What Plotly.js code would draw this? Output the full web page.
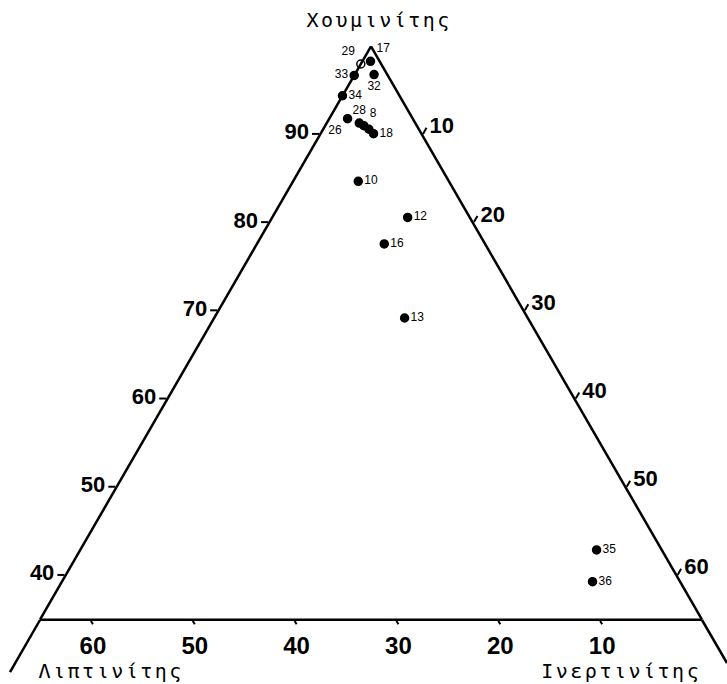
<!DOCTYPE html>
<html><head><meta charset="utf-8">
<script src="https://cdn.plot.ly/plotly-3.0.1.min.js"></script>
<style>html,body{margin:0;padding:0;background:#fff}</style>
</head><body><div id="chart" style="width:727px;height:684px"></div>
<script>
// Sample labels and maceral-group composition (%)
const sampleIds  = ['17', '29', '33', '32', '34', '26', '28', '8', '', '18', '10', '12', '16', '13', '35', '36'];
const huminite   = [98.3, 98.0, 96.7, 96.8, 94.4, 91.8, 91.3, 91.0, 90.6, 90.1, 84.7, 80.6, 77.6, 69.2, 42.9, 39.3];
const liptinite  = [0.9, 2.0, 3.3, 1.3, 5.6, 6.4, 5.5, 5.2, 4.9, 4.7, 8.9, 6.1, 9.9, 12.1, 6.4, 8.6];
const inertinite = [0.8, 0.0, 0.0, 1.9, 0.0, 1.8, 3.2, 3.8, 4.5, 5.2, 6.4, 13.3, 12.5, 18.7, 50.7, 52.1];

const huminiteTicks   = [40, 50, 60, 70, 80, 90];
const liptiniteTicks  = [10, 20, 30, 40, 50, 60];
const inertiniteTicks = [10, 20, 30, 40, 50, 60];

const titleTop   = 'Χουμινίτης';
const titleLeft  = 'Λιπτινίτης';
const titleRight = 'Ινερτινίτης';

const tickFamily = '"Liberation Sans", Arial, sans-serif';
const axisBase = {
  ticks: 'outside', ticklen: 7, tickwidth: 2, tickcolor: '#000',
  linecolor: '#000', linewidth: 2.5, showgrid: false,
  tickfont: {family: tickFamily, size: 22, color: '#000', weight: 'bold'},
  title: {text: ''}
};

const trace = {
  type: 'scatterternary',
  mode: 'markers+text',
  a: huminite, b: liptinite, c: inertinite,
  text: sampleIds,
  textposition: ['top right','top left','middle left','bottom center','middle right','bottom left','top center','top right','middle right','middle right','middle right','middle right','middle right','middle right','middle right','middle right'],
  textfont: {family: '"Liberation Sans", Arial, sans-serif', size: 12, color: '#000'},
  marker: {color: '#000', size: 8, symbol: ['circle','circle-open','circle','circle','circle','circle','circle','circle','circle','circle','circle','circle','circle','circle','circle','circle'], line: {width: 1.5, color: '#000'}},
  cliponaxis: false,
  hoverinfo: 'skip',
  showlegend: false
};

const titleFont = {family: '"DejaVu Sans Mono", "Liberation Mono", monospace', size: 20, color: '#000'};

const layout = {
  width: 727, height: 684,
  margin: {l: 40, r: 25, t: 46, b: 64},
  paper_bgcolor: '#fff',
  showlegend: false,
  ternary: {
    sum: 100,
    bgcolor: '#fff',
    aaxis: Object.assign({}, axisBase, {min: 35, tickvals: huminiteTicks}),
    baxis: Object.assign({}, axisBase, {min: 0, tickvals: liptiniteTicks, ticklen: 4,
      tickfont: {family: tickFamily, size: 24, color: '#000', weight: 'bold'}}),
    caxis: Object.assign({}, axisBase, {min: 0, tickvals: inertiniteTicks})
  },
  shapes: [
    {type: 'line', xref: 'paper', yref: 'paper', x0: 0, y0: 0, x1: -0.0453, y1: -0.0906, line: {color: '#000', width: 2.5}},
    {type: 'line', xref: 'paper', yref: 'paper', x0: 1, y0: 0, x1: 1.0378, y1: -0.075, line: {color: '#000', width: 2.5}}
  ],
  annotations: [
    {text: titleTop, xref: 'paper', yref: 'paper', x: 0.512, y: 1.045, xanchor: 'center', yanchor: 'middle', showarrow: false, font: titleFont},
    {text: titleLeft, xref: 'paper', yref: 'paper', x: 0.108, y: -0.088, xanchor: 'center', yanchor: 'middle', showarrow: false, font: titleFont},
    {text: titleRight, xref: 'paper', yref: 'paper', x: 0.878, y: -0.088, xanchor: 'center', yanchor: 'middle', showarrow: false, font: titleFont}
  ]
};

Plotly.newPlot('chart', [trace], layout, {staticPlot: true}).then(function () {
  document.querySelectorAll('.annotation-text').forEach(function (t) {
    t.setAttribute('letter-spacing', '2.5px');
  });
});
</script>
</body></html>
